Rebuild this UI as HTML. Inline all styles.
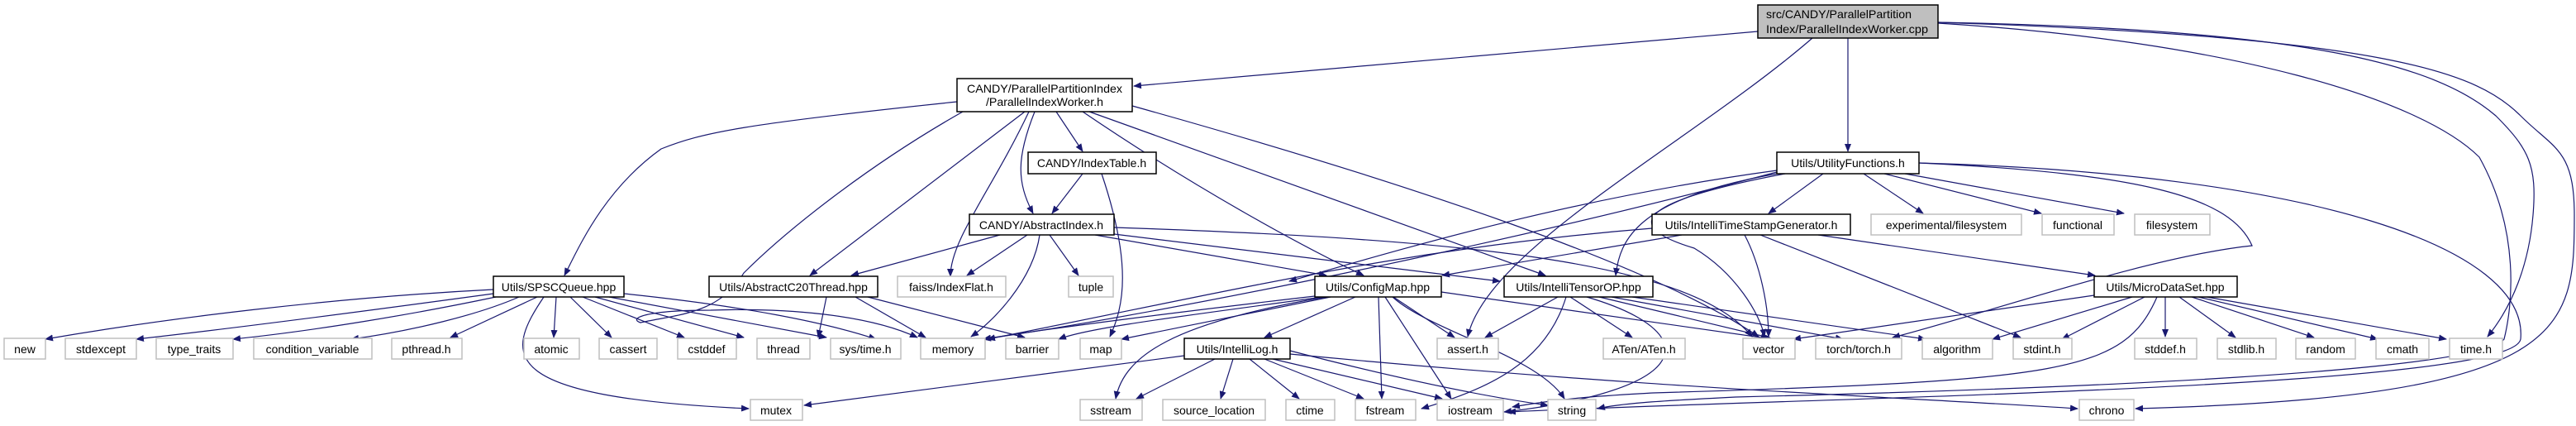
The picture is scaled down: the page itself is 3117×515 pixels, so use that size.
<!DOCTYPE html>
<html><head><meta charset="utf-8"><style>
html,body{margin:0;padding:0;background:#fff;}
svg{display:block;}
text{font-family:"Liberation Sans","DejaVu Sans",sans-serif;font-size:14px;fill:#000;}
.e{fill:none;stroke:#191970;stroke-width:1.2;marker-end:url(#a);}
.n{fill:#fff;stroke:#000;stroke-width:1.5;}
.x{fill:#fff;stroke:#bfbfbf;stroke-width:1.5;}
</style></head><body>
<svg width="3117" height="515" viewBox="0 0 3117 515" xmlns="http://www.w3.org/2000/svg">
<defs><marker id="a" markerWidth="10" markerHeight="8" refX="9" refY="4" orient="auto" markerUnits="userSpaceOnUse"><path d="M0,0 L10,4 L0,8 z" fill="#191970"/></marker></defs>
<g>
<!-- root edges -->
<path class="e" d="M2127,38 L1372,104"/>
<path class="e" d="M2236,46 L2236,183"/>
<path class="e" d="M2193,46 C2050,170 1800,300 1776,407"/>
<path class="e" d="M2345,27 C2800,35 2950,80 3020,140 C3060,180 3070,200 3065,260 C3060,320 3040,370 3010,407"/>
<path class="e" d="M2345,28 C2700,50 2930,120 3000,190 C3050,280 3040,370 3030,410 C3000,450 2500,470 2100,480 C2000,485 1960,488 1933,494"/>
<path class="e" d="M2345,27 C2900,45 3000,90 3050,140 C3090,180 3115,180 3115,260 C3115,400 3110,480 2584,494"/>
<!-- PIW edges -->
<path class="e" d="M1158,123 C900,150 850,160 800,180 C730,230 700,300 683,333"/>
<path class="e" d="M1165,135 C1050,200 950,280 900,330 C870,380 820,380 775,390 C760,385 780,375 860,375 C950,372 1050,380 1110,408"/>
<path class="e" d="M1240,135 L980,333"/>
<path class="e" d="M1245,135 C1200,230 1150,290 1150,334"/>
<path class="e" d="M1252,135 C1230,190 1230,220 1250,258"/>
<path class="e" d="M1278,135 L1310,183"/>
<path class="e" d="M1310,135 C1450,230 1580,300 1650,333"/>
<path class="e" d="M1318,135 L1870,333"/>
<path class="e" d="M1370,128 C1700,220 2000,320 2128,407"/>
<!-- IndexTable -->
<path class="e" d="M1310,210 L1273,258"/>
<path class="e" d="M1333,210 C1370,320 1360,370 1343,407"/>
<!-- AbstractIndex -->
<path class="e" d="M1210,284 L1030,333"/>
<path class="e" d="M1243,284 L1170,333"/>
<path class="e" d="M1270,284 L1305,333"/>
<path class="e" d="M1258,284 C1250,340 1200,390 1175,407"/>
<path class="e" d="M1325,284 L1605,333"/>
<path class="e" d="M1348,283 L1815,340"/>
<path class="e" d="M1348,275 C1800,290 2050,320 2120,407"/>
<!-- AbstractC20Thread -->
<path class="e" d="M1000,359 L990,408"/>
<path class="e" d="M1035,359 L1120,408"/>
<path class="e" d="M1050,359 L1240,408"/>
<!-- SPSCQueue -->
<path class="e" d="M597,350 C400,360 200,385 55,410"/>
<path class="e" d="M597,355 C450,375 300,395 165,410"/>
<path class="e" d="M600,359 C500,380 380,400 282,410"/>
<path class="e" d="M628,359 C580,380 500,400 425,410"/>
<path class="e" d="M650,359 L545,408"/>
<path class="e" d="M673,359 L670,408"/>
<path class="e" d="M690,359 L740,408"/>
<path class="e" d="M705,359 L828,408"/>
<path class="e" d="M720,359 L900,408"/>
<path class="e" d="M737,359 L1000,408"/>
<path class="e" d="M755,355 C900,370 1000,390 1060,410"/>
<path class="e" d="M658,359 C610,430 600,480 906,494"/>
<!-- ConfigMap -->
<path class="e" d="M1591,358 C1400,380 1250,400 1190,410"/>
<path class="e" d="M1600,359 C1450,380 1320,395 1281,410"/>
<path class="e" d="M1610,359 L1357,410"/>
<path class="e" d="M1640,359 L1530,408"/>
<path class="e" d="M1605,359 C1420,390 1360,430 1350,482"/>
<path class="e" d="M1668,359 L1672,482"/>
<path class="e" d="M1676,359 L1756,482"/>
<path class="e" d="M1685,359 C1730,400 1860,430 1893,482"/>
<path class="e" d="M1686,359 L1760,408"/>
<path class="e" d="M1744,353 L2145,410"/>
<!-- IntelliTensorOP -->
<path class="e" d="M1885,359 L1797,408"/>
<path class="e" d="M1900,359 L1975,408"/>
<path class="e" d="M1895,359 C1870,440 1800,470 1720,494"/>
<path class="e" d="M1920,359 C2060,400 2060,470 1820,498"/>
<path class="e" d="M1935,359 L2140,408"/>
<path class="e" d="M1950,359 L2230,410"/>
<path class="e" d="M1975,359 L2330,410"/>
<!-- IntelliTimeStampGenerator -->
<path class="e" d="M2035,284 L1745,333"/>
<path class="e" d="M1999,276 C1700,300 1500,350 1195,410"/>
<path class="e" d="M2111,284 C2130,320 2140,370 2140,407"/>
<path class="e" d="M2130,284 L2445,408"/>
<path class="e" d="M2200,284 L2535,333"/>
<!-- UtilityFunctions -->
<path class="e" d="M2206,210 L2140,258"/>
<path class="e" d="M2255,210 L2327,258"/>
<path class="e" d="M2280,210 L2470,258"/>
<path class="e" d="M2305,210 L2570,258"/>
<path class="e" d="M2150,210 C1980,240 1960,290 1955,333"/>
<path class="e" d="M2150,206 C1900,240 1700,300 1560,340"/>
<path class="e" d="M2150,208 C1800,300 1400,380 1190,410"/>
<path class="e" d="M2160,210 C2000,240 1950,270 2050,300 C2100,330 2130,380 2135,407"/>
<path class="e" d="M2322,197 C2600,210 2700,240 2725,297 C2600,310 2400,380 2290,408"/>
<path class="e" d="M2322,197 C2800,210 3060,300 3050,410 C3040,470 2200,480 1825,498"/>
<!-- MicroDataSet -->
<path class="e" d="M2534,357 L2170,410"/>
<path class="e" d="M2580,359 L2411,410"/>
<path class="e" d="M2595,359 L2495,410"/>
<path class="e" d="M2620,359 L2620,407"/>
<path class="e" d="M2637,359 L2705,408"/>
<path class="e" d="M2652,359 L2800,408"/>
<path class="e" d="M2660,359 L2877,410"/>
<path class="e" d="M2670,359 L2960,410"/>
<path class="e" d="M2610,359 C2570,450 2500,460 2000,475 C1950,478 1900,480 1830,492"/>
<!-- IntelliLog -->
<path class="e" d="M1470,434 L1375,482"/>
<path class="e" d="M1492,434 L1477,482"/>
<path class="e" d="M1512,434 L1572,482"/>
<path class="e" d="M1530,434 L1650,482"/>
<path class="e" d="M1540,434 L1745,482"/>
<path class="e" d="M1561,424 C1700,460 1800,480 1873,490"/>
<path class="e" d="M1433,430 C1200,460 1050,480 973,490"/>
<path class="e" d="M1561,428 C2000,470 2300,480 2514,494"/>
</g>
<g>
<rect x="2127" y="6" width="218" height="40" fill="#bfbfbf" stroke="#000" stroke-width="1.5"/>
<text x="2137" y="22" textLength="176" lengthAdjust="spacingAndGlyphs">src/CANDY/ParallelPartition</text>
<text x="2137" y="40" textLength="196" lengthAdjust="spacingAndGlyphs">Index/ParallelIndexWorker.cpp</text>
<rect class="n" x="1158" y="95" width="212" height="40"/>
<text x="1264" y="112" text-anchor="middle" textLength="188" lengthAdjust="spacingAndGlyphs">CANDY/ParallelPartitionIndex</text>
<text x="1264" y="128" text-anchor="middle" textLength="142" lengthAdjust="spacingAndGlyphs">/ParallelIndexWorker.h</text>
</g>
<g>
<rect class="n" x="1244" y="184" width="155" height="26"/><text x="1321" y="202" text-anchor="middle">CANDY/IndexTable.h</text>
<rect class="n" x="2150" y="184" width="172" height="26"/><text x="2236" y="202" text-anchor="middle">Utils/UtilityFunctions.h</text>
<rect class="n" x="1173" y="259" width="175" height="25"/><text x="1260" y="277" text-anchor="middle">CANDY/AbstractIndex.h</text>
<rect class="n" x="1999" y="259" width="240" height="25"/><text x="2119" y="277" text-anchor="middle">Utils/IntelliTimeStampGenerator.h</text>
<rect class="x" x="2264" y="259" width="182" height="25"/><text x="2355" y="277" text-anchor="middle">experimental/filesystem</text>
<rect class="x" x="2471" y="259" width="87" height="25"/><text x="2514" y="277" text-anchor="middle">functional</text>
<rect class="x" x="2583" y="259" width="91" height="25"/><text x="2628" y="277" text-anchor="middle">filesystem</text>
<rect class="x" x="1293" y="334" width="54" height="25"/><text x="1320" y="352" text-anchor="middle">tuple</text>
<rect class="n" x="597" y="334" width="158" height="25"/><text x="676" y="352" text-anchor="middle">Utils/SPSCQueue.hpp</text>
<rect class="n" x="858" y="334" width="204" height="25"/><text x="960" y="352" text-anchor="middle">Utils/AbstractC20Thread.hpp</text>
<rect class="x" x="1086" y="334" width="131" height="25"/><text x="1151" y="352" text-anchor="middle">faiss/IndexFlat.h</text>
<rect class="n" x="1591" y="334" width="153" height="25"/><text x="1667" y="352" text-anchor="middle">Utils/ConfigMap.hpp</text>
<rect class="n" x="1820" y="334" width="180" height="25"/><text x="1910" y="352" text-anchor="middle">Utils/IntelliTensorOP.hpp</text>
<rect class="n" x="2534" y="334" width="173" height="25"/><text x="2620" y="352" text-anchor="middle">Utils/MicroDataSet.hpp</text>
</g>
<g>
<rect class="x" x="5" y="409" width="50" height="25"/><text x="30" y="427" text-anchor="middle">new</text>
<rect class="x" x="79" y="409" width="86" height="25"/><text x="122" y="427" text-anchor="middle">stdexcept</text>
<rect class="x" x="189" y="409" width="93" height="25"/><text x="235" y="427" text-anchor="middle">type_traits</text>
<rect class="x" x="307" y="409" width="143" height="25"/><text x="378" y="427" text-anchor="middle">condition_variable</text>
<rect class="x" x="474" y="409" width="85" height="25"/><text x="516" y="427" text-anchor="middle">pthread.h</text>
<rect class="x" x="634" y="409" width="67" height="25"/><text x="667" y="427" text-anchor="middle">atomic</text>
<rect class="x" x="725" y="409" width="70" height="25"/><text x="760" y="427" text-anchor="middle">cassert</text>
<rect class="x" x="820" y="409" width="71" height="25"/><text x="855" y="427" text-anchor="middle">cstddef</text>
<rect class="x" x="916" y="409" width="64" height="25"/><text x="948" y="427" text-anchor="middle">thread</text>
<rect class="x" x="1005" y="409" width="85" height="25"/><text x="1047" y="427" text-anchor="middle">sys/time.h</text>
<rect class="x" x="1114" y="409" width="78" height="25"/><text x="1153" y="427" text-anchor="middle">memory</text>
<rect class="x" x="1217" y="409" width="64" height="25"/><text x="1249" y="427" text-anchor="middle">barrier</text>
<rect class="x" x="1307" y="409" width="50" height="25"/><text x="1332" y="427" text-anchor="middle">map</text>
<rect class="n" x="1433" y="409" width="128" height="25"/><text x="1497" y="427" text-anchor="middle">Utils/IntelliLog.h</text>
<rect class="x" x="1739" y="409" width="74" height="25"/><text x="1776" y="427" text-anchor="middle">assert.h</text>
<rect class="x" x="1940" y="409" width="99" height="25"/><text x="1989" y="427" text-anchor="middle">ATen/ATen.h</text>
<rect class="x" x="2109" y="409" width="63" height="25"/><text x="2140" y="427" text-anchor="middle">vector</text>
<rect class="x" x="2197" y="409" width="104" height="25"/><text x="2249" y="427" text-anchor="middle">torch/torch.h</text>
<rect class="x" x="2326" y="409" width="85" height="25"/><text x="2368" y="427" text-anchor="middle">algorithm</text>
<rect class="x" x="2436" y="409" width="71" height="25"/><text x="2471" y="427" text-anchor="middle">stdint.h</text>
<rect class="x" x="2583" y="409" width="75" height="25"/><text x="2620" y="427" text-anchor="middle">stddef.h</text>
<rect class="x" x="2683" y="409" width="71" height="25"/><text x="2718" y="427" text-anchor="middle">stdlib.h</text>
<rect class="x" x="2778" y="409" width="72" height="25"/><text x="2814" y="427" text-anchor="middle">random</text>
<rect class="x" x="2875" y="409" width="64" height="25"/><text x="2907" y="427" text-anchor="middle">cmath</text>
<rect class="x" x="2964" y="409" width="64" height="25"/><text x="2996" y="427" text-anchor="middle">time.h</text>
</g>
<g>
<rect class="x" x="908" y="483" width="63" height="25"/><text x="939" y="501" text-anchor="middle">mutex</text>
<rect class="x" x="1307" y="483" width="75" height="25"/><text x="1344" y="501" text-anchor="middle">sstream</text>
<rect class="x" x="1407" y="483" width="124" height="25"/><text x="1469" y="501" text-anchor="middle">source_location</text>
<rect class="x" x="1556" y="483" width="59" height="25"/><text x="1585" y="501" text-anchor="middle">ctime</text>
<rect class="x" x="1640" y="483" width="73" height="25"/><text x="1676" y="501" text-anchor="middle">fstream</text>
<rect class="x" x="1739" y="483" width="80" height="25"/><text x="1779" y="501" text-anchor="middle">iostream</text>
<rect class="x" x="1873" y="483" width="58" height="25"/><text x="1902" y="501" text-anchor="middle">string</text>
<rect class="x" x="2516" y="483" width="66" height="25"/><text x="2549" y="501" text-anchor="middle">chrono</text>
</g>
</svg>
</body></html>
